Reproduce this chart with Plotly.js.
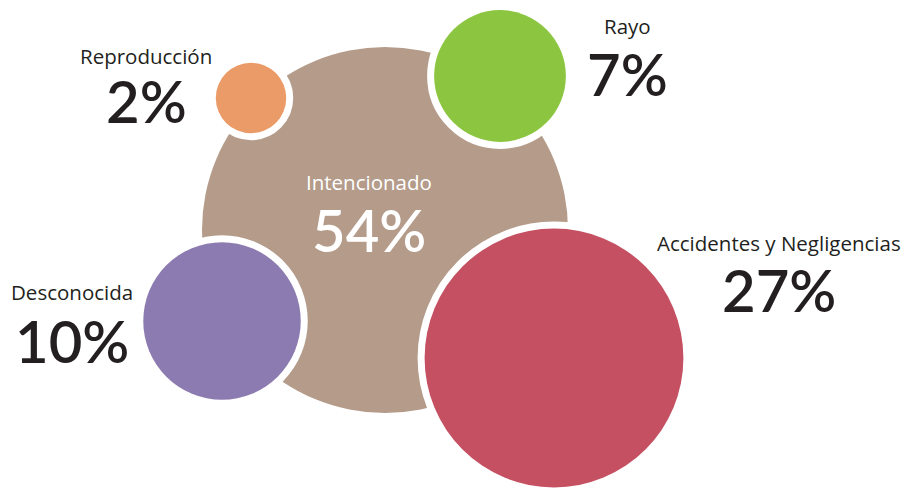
<!DOCTYPE html>
<html>
<head>
<meta charset="utf-8">
<script src="https://cdn.plot.ly/plotly-3.0.1.min.js"></script>
<style>html,body{margin:0;padding:0;background:#fff;}#chart{width:914px;height:490px;}</style>
</head>
<body>
<div id="chart"></div>
<script>
// Data
var categories = ["Intencionado", "Accidentes y Negligencias", "Desconocida", "Rayo", "Reproducción"];
var percents = [54, 27, 10, 7, 2];
var bubbleX = [385, 554, 222, 500, 251];
var bubbleY = [230, 358, 321, 76, 98];
var labelX = [369, 779, 72, 627, 146];
var labelY = [182, 243, 292, 26, 56];
var valueY = [229, 289, 340, 73, 100];
var colors = ["#b49b8a", "#c45061", "#8c7bb0", "#8cc540", "#eb9b67"];
var textColors = ["#ffffff", "#231f20", "#231f20", "#231f20", "#231f20"];

var sizeref = percents[0] / (2 * 183 * 183);

var main = {
  type: "scatter", mode: "markers", hoverinfo: "skip",
  x: [bubbleX[0]], y: [bubbleY[0]],
  marker: {size: [percents[0]], sizemode: "area", sizeref: sizeref, color: colors[0], opacity: 1, line: {width: 0}}
};
var halo = {
  type: "scatter", mode: "markers", hoverinfo: "skip",
  x: bubbleX.slice(1), y: bubbleY.slice(1),
  marker: {size: percents.slice(1), sizemode: "area", sizeref: sizeref, color: "#ffffff", opacity: 1, line: {width: 14, color: "#ffffff"}}
};
var others = {
  type: "scatter", mode: "markers", hoverinfo: "skip",
  x: bubbleX.slice(1), y: bubbleY.slice(1),
  marker: {size: percents.slice(1), sizemode: "area", sizeref: sizeref, color: colors.slice(1), opacity: 1, line: {width: 0}}
};

var annotations = [];
for (var i = 0; i < categories.length; i++) {
  annotations.push({
    x: labelX[i], y: labelY[i], xref: "x", yref: "y", showarrow: false,
    text: categories[i], xanchor: "center", yanchor: "middle",
    font: {family: "Open Sans, sans-serif", size: 20.5, color: textColors[i]}
  });
  annotations.push({
    x: labelX[i], y: valueY[i], xref: "x", yref: "y", showarrow: false,
    text: percents[i] + "%", xanchor: "center", yanchor: "middle",
    font: {family: "Lato, sans-serif", size: 58, weight: 600, color: textColors[i]}
  });
}

var layout = {
  width: 914, height: 490,
  margin: {l: 0, r: 0, t: 0, b: 0},
  paper_bgcolor: "#ffffff", plot_bgcolor: "#ffffff",
  showlegend: false,
  xaxis: {range: [0, 914], visible: false, fixedrange: true},
  yaxis: {range: [490, 0], visible: false, fixedrange: true},
  annotations: annotations
};

Plotly.newPlot("chart", [main, halo, others], layout, {displayModeBar: false, staticPlot: true});
</script>
</body>
</html>
